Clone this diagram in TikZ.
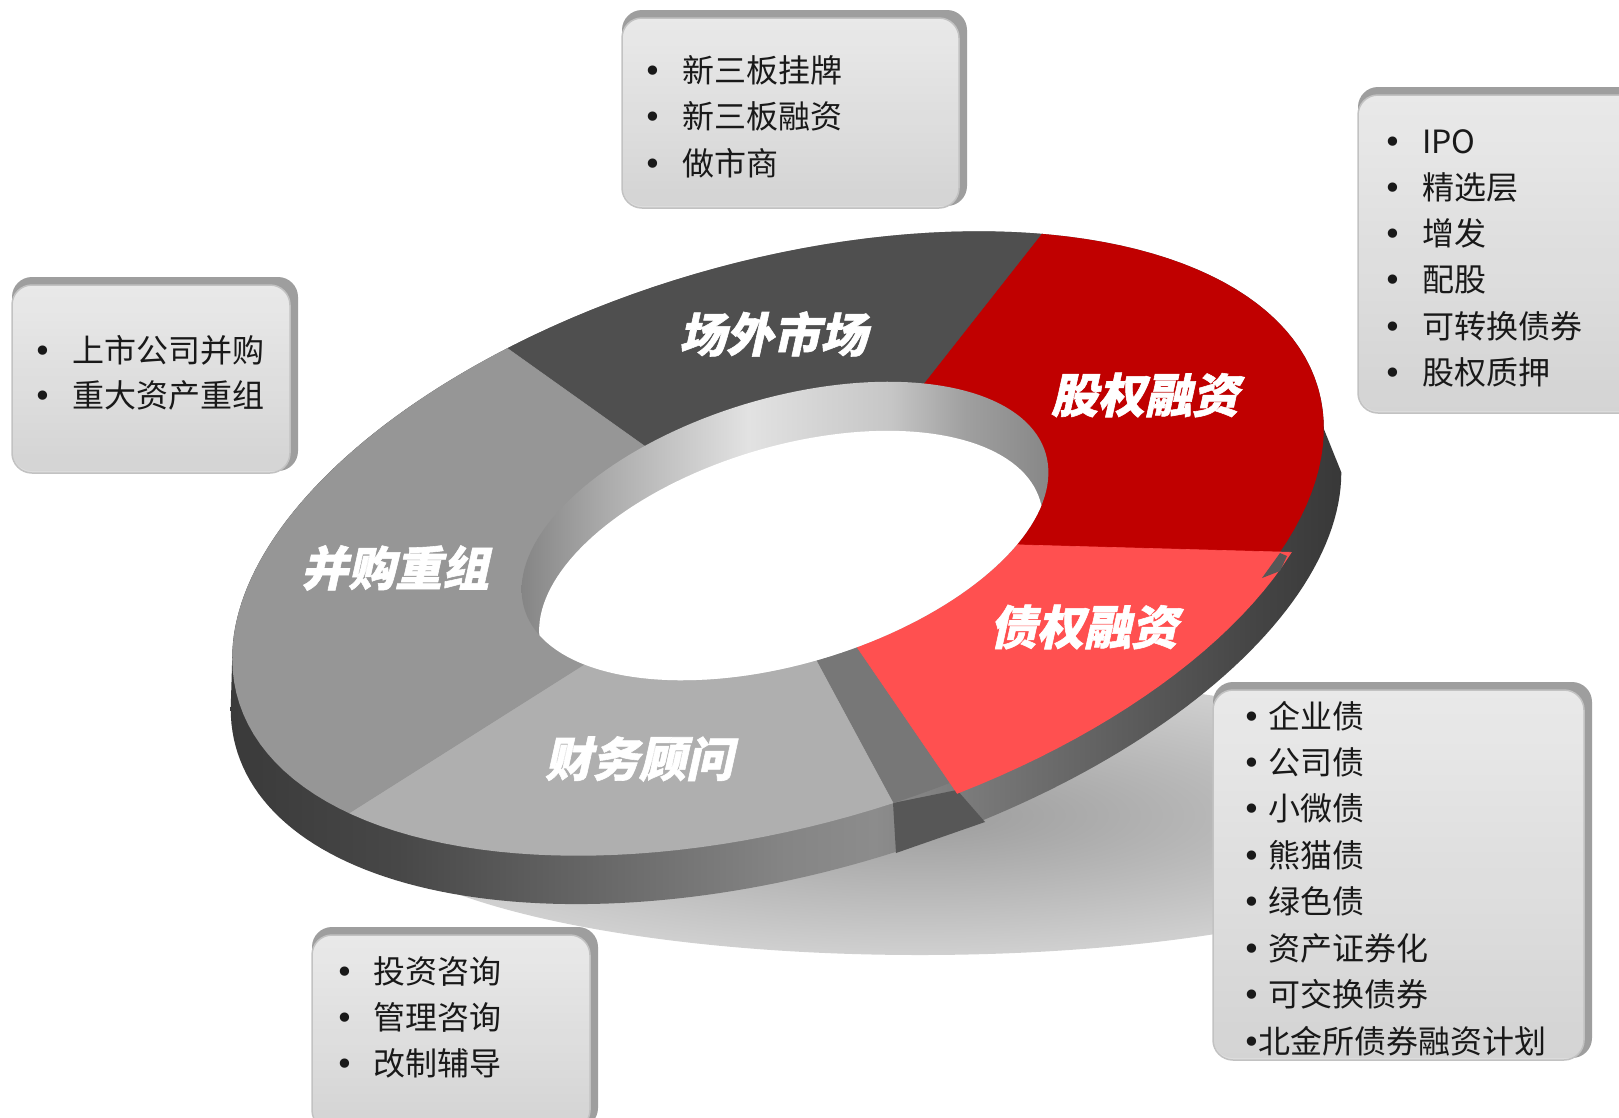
\documentclass[tikz,border=0pt]{standalone}
\usepackage{fontspec}
\setmainfont{Noto Sans CJK SC}
\newfontfamily\labfont{Noto Sans CJK SC}[FakeSlant=0.22, FakeBold=1.2]
\newfontfamily\bulfont{DejaVu Sans}
\definecolor{segOTC}{HTML}{4F4F4F}
\definecolor{segEq}{HTML}{C00000}
\definecolor{segDebt}{HTML}{FF5050}
\definecolor{segWedge}{HTML}{777777}
\definecolor{segFA}{HTML}{AFAFAF}
\definecolor{segMA}{HTML}{969696}
\definecolor{sd0}{HTML}{3A3A3A}
\definecolor{sd1}{HTML}{474747}
\definecolor{sd2}{HTML}{626262}
\definecolor{sd3}{HTML}{858585}
\definecolor{sd4}{HTML}{8C8C8C}
\definecolor{sd5}{HTML}{777777}
\definecolor{sd6}{HTML}{5E5E5E}
\definecolor{sd7}{HTML}{454545}
\definecolor{sd8}{HTML}{383838}
\definecolor{w0}{HTML}{858585}
\definecolor{w1}{HTML}{ABABAB}
\definecolor{w2}{HTML}{E2E2E2}
\definecolor{w3}{HTML}{C6C6C6}
\definecolor{w4}{HTML}{A0A0A0}
\definecolor{w5}{HTML}{878787}
\definecolor{shadin}{HTML}{9C9C9C}
\definecolor{shadout}{HTML}{D0D0D0}
\definecolor{bevelgray}{HTML}{9E9E9E}
\definecolor{facetop}{HTML}{F2F2F2}
\definecolor{facebot}{HTML}{DADADA}
\definecolor{faceedge}{HTML}{C2C2C2}
\definecolor{quadgray}{HTML}{575757}
\pgfdeclarehorizontalshading{sideshade}{100bp}{color(0bp)=(sd0); color(25bp)=(sd0); color(32.5bp)=(sd1); color(40bp)=(sd2); color(50bp)=(sd3); color(54bp)=(sd4); color(59bp)=(sd5); color(65bp)=(sd6); color(71bp)=(sd7); color(75bp)=(sd8); color(100bp)=(sd8)}
\pgfdeclarehorizontalshading{wallshade}{100bp}{color(0bp)=(w0); color(25bp)=(w0); color(33bp)=(w1); color(46.5bp)=(w2); color(60bp)=(w3); color(67bp)=(w4); color(75bp)=(w5); color(100bp)=(w5)}
\newcommand\bul[1]{\makebox[#1][l]{\bulfont •}}
\begin{document}
\begin{tikzpicture}[x=1pt,y=-1pt,
  seglab/.style={text=white, font=\labfont\bfseries\fontsize{47}{50}\selectfont, inner sep=0pt},
  item/.style={anchor=base west, inner sep=0pt, text=black!90, font=\fontsize{32}{40}\selectfont},
  cardback/.style={fill=bevelgray, rounded corners=20pt},
  cardface/.style={rounded corners=20pt, top color=facetop, bottom color=facebot, draw=faceedge, line width=1.5pt, fill opacity=0.9, inner sep=0pt},
  segfill/.style={fill=#1, draw=#1, line width=0.6pt}
]
\useasboundingbox (0,0) rectangle (1619,1117);
\fill[white] (0,0) rectangle (1619,1117);

% shadow under the ring
\shade[inner color=shadin, outer color=shadout] (920,815) ellipse [x radius=560pt, y radius=140pt];

% outer side of the ring
\shade[shading=sideshade]
  plot[domain=171.955:351.955, samples=120, variable=\t] ({786+549.86*cos(\t)-77.72*sin(\t)}, {590.5-157.64*cos(\t)-271.09*sin(\t)})
  -- plot[domain=-8.186:171.814, samples=120, variable=\t] ({778+540.25*cos(\t)-77.72*sin(\t)}, {543.5-154.89*cos(\t)-271.09*sin(\t)})
  -- cycle;
\fill[quadgray] (893,803) -- (957,790) -- (985,822) -- (896,853) -- cycle;

% top surface segments
\begin{scope}
  \clip plot[domain=0:360, samples=160, variable=\t] ({778+540.25*cos(\t)-77.72*sin(\t)}, {543.5-154.89*cos(\t)-271.09*sin(\t)}) -- cycle;
  \fill[segfill=segOTC] (785,531) -- (643,445) -- (115,69) -- (1397,-217) -- (925,383) -- cycle;
  \fill[segfill=segEq] (785,531) -- (925,383) -- (1397,-217) -- (1794,566) -- (1023,545) -- cycle;
  \fill[segfill=segWedge] (785,531) -- (857,647) -- (1257,1231) -- (1121,1226) -- (817,662) -- cycle;
  \fill[segfill=segFA] (785,531) -- (817,662) -- (1121,1226) -- (-119,1109) -- (583,665) -- cycle;
  \fill[segfill=segMA] (785,531) -- (583,665) -- (-119,1109) -- (115,69) -- (643,445) -- cycle;
\end{scope}
\begin{scope}
  \clip plot[domain=0:360, samples=160, variable=\t] ({782+540.25*cos(\t)-77.72*sin(\t)}, {555.5-154.89*cos(\t)-271.09*sin(\t)}) -- cycle;
  \fill[segfill=segDebt] (785,531) -- (1023,545) -- (1794,566) -- (1257,1231) -- (857,647) -- cycle;
\end{scope}
\fill[quadgray] (1280,553) -- (1287,556) -- (1280,571) -- (1262,578) -- cycle;

% hole with inner wall
\shade[shading=wallshade] plot[domain=0:360, samples=160, variable=\t] ({785+260.66*cos(\t)-38.0*sin(\t)}, {531-77.71*cos(\t)-127.45*sin(\t)}) -- cycle;
\begin{scope}
  \clip plot[domain=0:360, samples=160, variable=\t] ({785+260.66*cos(\t)-38.0*sin(\t)}, {531-77.71*cos(\t)-127.45*sin(\t)}) -- cycle;
  \fill[white] plot[domain=0:360, samples=160, variable=\t] ({791+249.16*cos(\t)-36.86*sin(\t)}, {575-74.28*cos(\t)-123.62*sin(\t)}) -- cycle;
\end{scope}

% segment labels
\node[seglab] (lblOTC) at (773,334) {场外市场};
\node[seglab] (lblEq) at (1145,395) {股权融资};
\node[seglab] (lblMA) at (395,568) {并购重组};
\node[seglab] (lblDebt) at (1084,627) {债权融资};
\node[seglab] (lblFA) at (639,759) {财务顾问};

% card A (top)
\fill[cardback] (622,10) rectangle (967,206);
\node[cardface, minimum width=337pt, minimum height=190pt] (cardA) at (790.5,113) {};
\foreach \s [count=\i] in {新三板挂牌,新三板融资,做市商}
  \node[item] (a\i) at (643,{82+46.5*(\i-1)}) {\bul{39pt}\s};

% card B (right top)
\fill[cardback] (1358,87) rectangle (1648,411);
\node[cardface, minimum width=282pt, minimum height=318pt] (cardB) at (1499,254) {};
\foreach \s [count=\i] in {IPO,精选层,增发,配股,可转换债券,股权质押}
  \node[item] (b\i) at (1383,{153+46.3*(\i-1)}) {\bul{39pt}\s};

% card C (left)
\fill[cardback] (12,277) rectangle (298,471);
\node[cardface, minimum width=278pt, minimum height=188pt] (cardC) at (151,379) {};
\foreach \s [count=\i] in {上市公司并购,重大资产重组}
  \node[item] (c\i) at (33,{362+45*(\i-1)}) {\bul{39pt}\s};

% card D (right bottom)
\fill[cardback] (1213,682) rectangle (1592,1058);
\node[cardface, minimum width=371pt, minimum height=370pt] (cardD) at (1398.5,875) {};
\foreach \s [count=\i] in {企业债,公司债,小微债,熊猫债,绿色债,资产证券化,可交换债券}
  \node[item] (d\i) at (1242,{728+46.43*(\i-1)}) {\bul{26pt}\s};
\node[item] (d8) at (1242,1053) {\bul{16pt}北金所债券融资计划};

% card E (bottom left)
\fill[cardback] (312,927) rectangle (598,1128);
\node[cardface, minimum width=278pt, minimum height=195pt] (cardE) at (451,1032.5) {};
\foreach \s [count=\i] in {投资咨询,管理咨询,改制辅导}
  \node[item] (e\i) at (335,{983+46*(\i-1)}) {\bul{38pt}\s};
\end{tikzpicture}
\end{document}
